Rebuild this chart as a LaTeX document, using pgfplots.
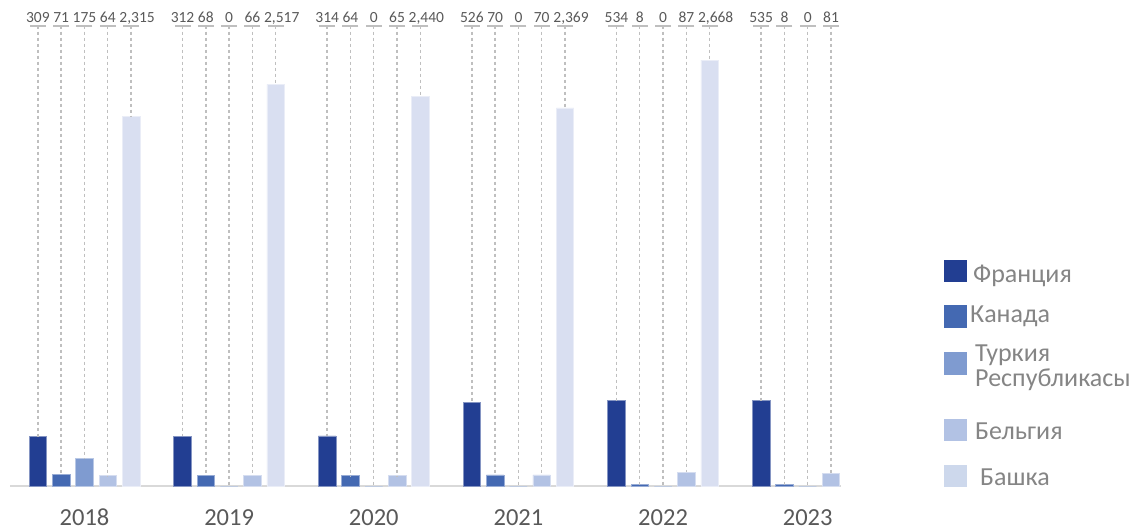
\documentclass[border=0pt]{standalone}
\usepackage{pgfplots}
\pgfplotsset{compat=1.18}
\usepackage{pgfplotstable}
\usepackage{fontspec}
\setmainfont{Carlito}
\definecolor{cF}{HTML}{223E92}
\definecolor{cK}{HTML}{4469B2}
\definecolor{cT}{HTML}{7F9BD0}
\definecolor{cB}{HTML}{B2C2E4}
\definecolor{cBa}{HTML}{D9DFF1}
\definecolor{cBaL}{HTML}{CDD8EC}
\definecolor{cLine}{HTML}{BFBFBF}
\definecolor{cTxt}{HTML}{595959}
\definecolor{cLeg}{HTML}{858585}
\definecolor{cAx}{HTML}{D9D9D9}

\pgfplotstableread{
x F K T B
0 309 71 175 64
1 312 68 0 66
2 314 64 0 65
3 526 70 0 70
4 534 8 0 87
5 535 8 0 81
}\data
\pgfplotstableread{
x Ba
0 2315
1 2517
2 2440
3 2369
4 2668
}\dataBa

\pgfplotsset{
  barstyle/.style={ybar, bar width=17.5pt, forget plot, draw=#1!55!white, line width=0.6pt, fill=#1},
  lblstyle/.style={forget plot, only marks, mark=-, mark size=8pt,
    mark options={draw=cLine, line width=2pt, solid},
    point meta=explicit,
    nodes near coords,
    nodes near coords style={anchor=base, yshift=3.5pt, inner sep=0pt,
      font=\fontsize{15.5}{18}\selectfont, text=cTxt},
    error bars/y dir=minus, error bars/y explicit, error bars/error mark=none,
    error bars/error bar style={draw=cLine, line width=1.4pt, dash pattern=on 3pt off 3pt}},
}

\begin{document}
\begin{tikzpicture}
\useasboundingbox (0,0) rectangle (1132pt,530pt);
\begin{axis}[
  at={(10pt,44pt)}, anchor=south west,
  scale only axis, width=830.7pt, height=478.8pt,
  xmin=-0.515, xmax=5.228, ymin=0, ymax=3000,
  clip=false,
  axis y line=none,
  axis x line*=bottom,
  x axis line style={draw=cAx, line width=2.2pt, -},
  xtick={0,1,2,3,4,5},
  xticklabels={2018,2019,2020,2021,2022,2023},
  major tick length=0pt,
  xticklabel style={anchor=base, yshift=-39.5pt, font=\fontsize{24.5}{28}\selectfont, text=cTxt},
  /pgf/number format/assume math mode=true,
]
\addplot[barstyle=cF, bar shift=-46.6pt] table[x=x, y=F] {\data};
\addplot[barstyle=cK, bar shift=-23.3pt] table[x=x, y=K] {\data};
\addplot[barstyle=cT, bar shift=0pt] table[x=x, y=T] {\data};
\addplot[barstyle=cB, bar shift=23.3pt] table[x=x, y=B] {\data};
\addplot[barstyle=cBa, bar shift=46.6pt] table[x=x, y=Ba] {\dataBa};

\addplot[lblstyle] table[x expr=\thisrow{x}-0.3222, y expr=2885, meta=F, y error minus expr=2885-\thisrow{F}] {\data};
\addplot[lblstyle] table[x expr=\thisrow{x}-0.1611, y expr=2885, meta=K, y error minus expr=2885-\thisrow{K}] {\data};
\addplot[lblstyle] table[x expr=\thisrow{x}, y expr=2885, meta=T, y error minus expr=2885-\thisrow{T}] {\data};
\addplot[lblstyle] table[x expr=\thisrow{x}+0.1611, y expr=2885, meta=B, y error minus expr=2885-\thisrow{B}] {\data};
\addplot[lblstyle, nodes near coords style={xshift=6pt}] table[x expr=\thisrow{x}+0.3222, y expr=2885, meta=Ba, y error minus expr=2885-\thisrow{Ba}] {\dataBa};
\end{axis}
% legend
\begin{scope}[every node/.style={anchor=base west, inner sep=0pt, font=\fontsize{26}{30}\selectfont, text=cLeg}]
\fill[cF] (944pt,247.5pt) rectangle ++(22.5pt,22.5pt);
\node at (973pt,247.3pt) {Франция};
\fill[cK] (944pt,202pt) rectangle ++(22.5pt,22.5pt);
\node at (970pt,207pt) {Канада};
\fill[cT] (944pt,155pt) rectangle ++(22.5pt,22.5pt);
\node at (975pt,168.3pt) {Туркия};
\node at (975pt,143.3pt) {Республикасы};
\fill[cB] (944pt,88.5pt) rectangle ++(22.5pt,22.5pt);
\node at (975pt,90pt) {Бельгия};
\fill[cBaL] (944pt,42.5pt) rectangle ++(22.5pt,22.5pt);
\node at (980pt,45pt) {Башка};
\end{scope}
\end{tikzpicture}
\end{document}
